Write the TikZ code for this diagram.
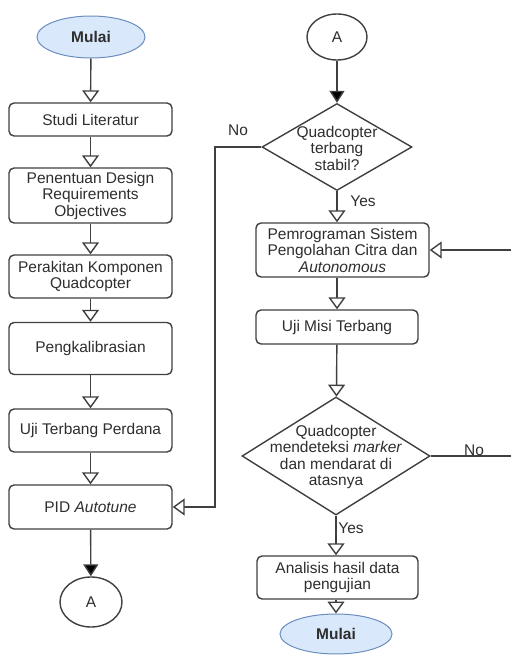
\documentclass[tikz,border=0pt]{standalone}
\usepackage{fontspec}
\setmainfont{Liberation Sans}
\usetikzlibrary{shapes.geometric,arrows.meta}
\definecolor{lnc}{HTML}{404040}
\definecolor{txc}{HTML}{2E2E2E}
\definecolor{blfill}{HTML}{DAE8FC}
\definecolor{bldraw}{HTML}{6C8EBF}
\tikzset{
  every node/.style={font=\fontsize{15.5}{16.5}\selectfont, text=txc, align=center, inner sep=0pt},
  procbox/.style={draw=lnc, line width=1.4pt, rounded corners=5pt, fill=white},
  startend/.style={ellipse, draw=bldraw, line width=1pt, fill=blfill, font=\fontsize{15.5}{16.5}\selectfont\bfseries},
  connA/.style={ellipse, draw=lnc, line width=1.4pt, fill=white},
  decision/.style={diamond, draw=lnc, line width=1.4pt, fill=white, aspect=1.7},
  flowopen/.style={draw=lnc, line width=1.4pt, -{Triangle[open, width=17pt, length=12pt, fill=white]}},
  flowfull/.style={draw=lnc, line width=1.4pt, -{Triangle[width=15pt, length=12pt, fill=black]}},
  lbl/.style={font=\fontsize{15.5}{16.5}\selectfont}
}
\begin{document}
\begin{tikzpicture}[x=1pt,y=-1pt]
\useasboundingbox (0,0) rectangle (511,664);
\clip (0,0) rectangle (511,664);
\fill[white] (0,0) rectangle (511,664);
% left column
\node[startend, minimum width=108pt, minimum height=42pt] (m1) at (91,37) {Mulai};
\node[procbox, minimum width=163pt, minimum height=33pt] (studi) at (90.5,119.5) {Studi Literatur};
\node[procbox, minimum width=163pt, minimum height=55pt] (pen) at (90.5,195.5) {Penentuan Design\\Requirements\\Objectives};
\node[procbox, minimum width=163pt, minimum height=43pt] (per) at (90.5,276.5) {Perakitan Komponen\\Quadcopter};
\node[procbox, minimum width=163pt, minimum height=52pt] (kal) at (90.5,348.5) {Pengkalibrasian};
\node[procbox, minimum width=163pt, minimum height=43pt] (ujp) at (90.5,430.5) {Uji Terbang Perdana};
\node[procbox, minimum width=163pt, minimum height=44pt] (pid) at (90.5,507) {PID \textit{Autotune}};
\node[connA, minimum width=62pt, minimum height=50pt] (a1) at (91,602) {A};
% right column
\node[connA, minimum width=60pt, minimum height=46pt] (a2) at (337,37) {A};
\node[decision, minimum width=150pt, minimum height=87pt] (d1) at (337,147) {};
\node at (337,148) {Quadcopter\\terbang\\stabil?};
\node[procbox, minimum width=173pt, minimum height=54pt] (prog) at (342.5,250) {Pemrograman Sistem\\Pengolahan Citra dan\\\textit{Autonomous}};
\node[procbox, minimum width=162pt, minimum height=34pt] (misi) at (337,327) {Uji Misi Terbang};
\node[decision, minimum width=188pt, minimum height=118pt] (d2) at (336,456) {};
\node at (336,457) {Quadcopter\\mendeteksi \textit{marker}\\dan mendarat di\\atasnya};
\node[procbox, minimum width=161pt, minimum height=43pt] (ana) at (337.5,577.5) {Analisis hasil data\\pengujian};
\node[startend, minimum width=112pt, minimum height=40pt] (m2) at (336,634) {Mulai};
% helper coordinates
\coordinate (c1) at (215,147);
\coordinate (c2) at (530,456);
% connectors left
\draw[flowopen] (m1) -- (studi);
\draw[flowopen] (studi) -- (pen);
\draw[flowopen] (pen) -- (per);
\draw[flowopen] (per) -- (kal);
\draw[flowopen] (kal) -- (ujp);
\draw[flowopen] (ujp) -- (pid);
\draw[flowfull] (pid) -- (a1);
% connectors right
\draw[flowfull] (a2) -- (d1);
\draw[flowopen] (d1.south) -- (d1.south |- prog.north);
\draw[flowopen] (misi.north |- prog.south) -- (misi.north);
\draw[flowopen] (misi) -- (d2);
\draw[flowopen] (d2) -- (d2.south |- ana.north);
\draw[flowopen] (ana.south -| m2.north) -- (m2);
\draw[flowopen] (d1.west) -- (c1) -- (c1 |- pid.east) -- (pid.east);
\draw[flowopen] (d2.east) -- (c2) -- (c2 |- prog.east) -- (prog.east);
% labels
\node[lbl] at (238,130) {No};
\node[lbl] at (363,201) {Yes};
\node[lbl] at (351,528) {Yes};
\node[lbl] at (474,450) {No};
\end{tikzpicture}
\end{document}
